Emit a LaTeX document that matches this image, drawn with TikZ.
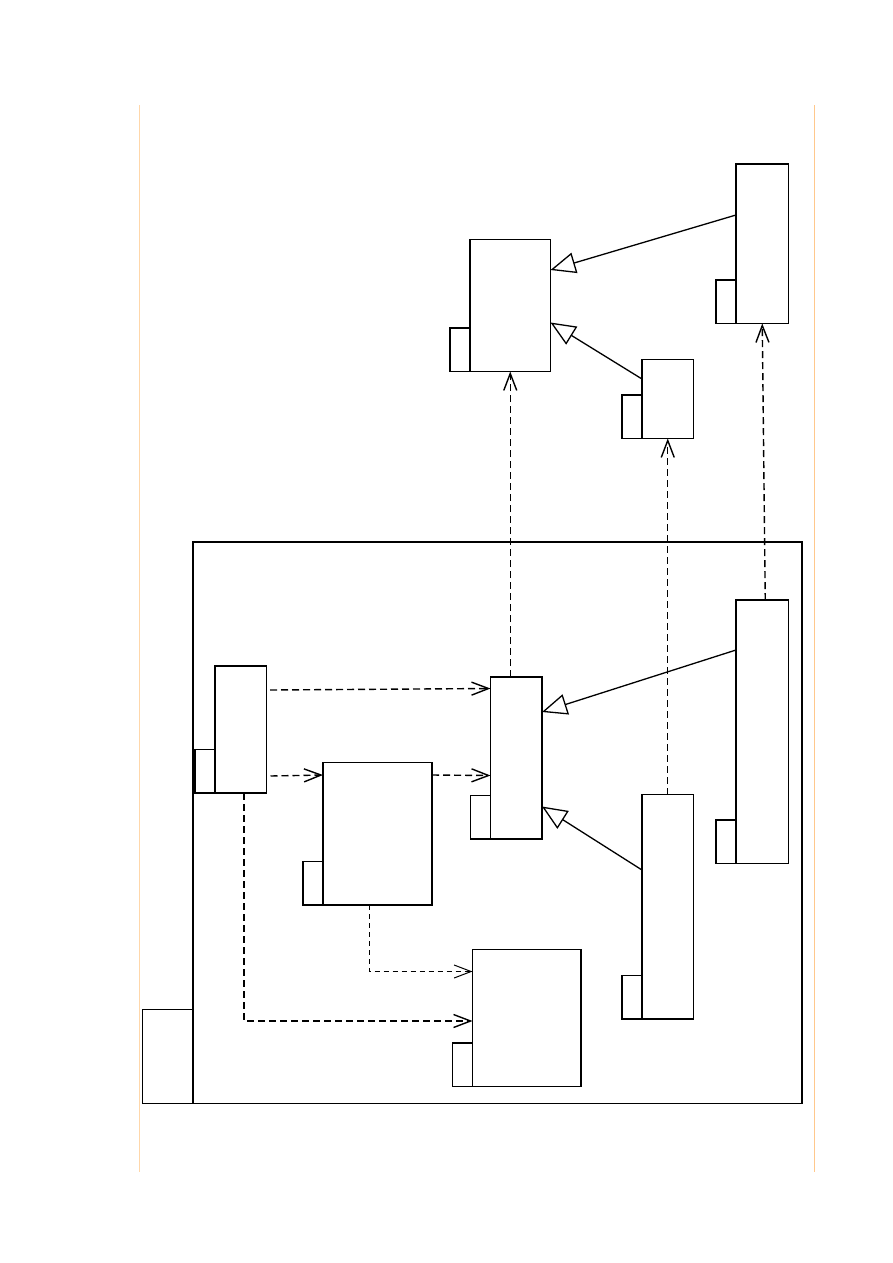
\documentclass[tikz,border=0pt]{standalone}
\usetikzlibrary{arrows.meta}
\definecolor{marginL}{RGB}{255,215,170}
\definecolor{marginR}{RGB}{255,200,140}
\begin{document}
\begin{tikzpicture}[x=1pt,y=-1pt,
  compbox/.style={draw=black,line width=1.3pt,fill=white,inner sep=0pt,outer sep=0pt},
  tabbox/.style={draw=black,line width=1.3pt,fill=white,inner sep=0pt,outer sep=0pt,
     anchor=south east,minimum width=20pt,minimum height=43.5pt},
  dep/.style={line width=1.4pt,dash pattern=on 7pt off 4pt,
     -{Straight Barb[length=17pt,width=13pt]}},
  gen/.style={line width=1.3pt,-{Triangle[open,length=25pt,width=21pt]}},
  margin/.style={line width=1pt}]
\useasboundingbox (0,0) rectangle (893,1263);
% page margins
\draw[margin,marginL] (139.5,105) coordinate (mL1) -- (139.5,1172) coordinate (mL2);
\draw[margin,marginR] (814.5,105) coordinate (mR1) -- (814.5,1172) coordinate (mR2);
% outer frame
\node[compbox,minimum width=609pt,minimum height=561.5pt] (frame) at (497.5,822.75) {};
\draw[line width=2.6pt] (frame.north west) -- (frame.south west);
\node[compbox,anchor=south east,minimum width=50.5pt,minimum height=94pt] (frametab) at (frame.south west) {};
% top components
\node[compbox,minimum width=80.5pt,minimum height=132pt] (A) at (510.25,305.5) {};
\node[tabbox] (Atab) at (A.south west) {};
\node[compbox,minimum width=52.5pt,minimum height=159.5pt] (B) at (762.25,243.75) {};
\node[tabbox] (Btab) at (B.south west) {};
\node[compbox,minimum width=51.5pt,minimum height=79pt] (C) at (667.75,399) {};
\node[tabbox] (Ctab) at (C.south west) {};
% inner components
\node[compbox,minimum width=51.5pt,minimum height=127pt] (E) at (240.75,729.5) {};
\node[tabbox] (Etab) at (E.south west) {};
\node[compbox,minimum width=109pt,minimum height=142.5pt] (H) at (377.5,833.75) {};
\node[tabbox] (Htab) at (H.south west) {};
\node[compbox,minimum width=51.5pt,minimum height=162pt] (D) at (516.25,758) {};
\node[tabbox] (Dtab) at (D.south west) {};
\node[compbox,minimum width=51.5pt,minimum height=224.5pt] (F) at (667.75,906.75) {};
\node[tabbox] (Ftab) at (F.south west) {};
\node[compbox,minimum width=52.5pt,minimum height=263.5pt] (G) at (762.25,731.75) {};
\node[tabbox] (Gtab) at (G.south west) {};
\node[compbox,minimum width=108.5pt,minimum height=137pt] (I) at (526.75,1018) {};
\node[tabbox] (Itab) at (I.south west) {};
% generalizations
\draw[gen] ([yshift=-51pt]B.north west) -- ([yshift=-30.5pt]A.north east);
\draw[gen] ([yshift=-19.5pt]C.north west) -- ([yshift=-83pt]A.north east);
\draw[gen] ([yshift=-50pt]G.north west) -- ([yshift=-35pt]D.north east);
\draw[gen] ([yshift=-75.5pt]F.north west) -- ([yshift=-129.5pt]D.north east);
% dependencies
\draw[dep] ([xshift=-6pt]D.north) -- (A.south);
\draw[dep] (F.north) -- (C.south);
\draw[dep] ([xshift=3pt]G.north) -- (B.south);
\draw[dep] ([xshift=3.5pt,yshift=-24pt]E.north east) -- ([yshift=-11.5pt]D.north west);
\draw[dep] ([xshift=4pt,yshift=-110pt]E.north east) -- ([yshift=-12.5pt]H.north west);
\draw[dep] ([yshift=-12.5pt]H.north east) -- ([yshift=-98.5pt]D.north west);
\draw[dep,line width=1pt,dash pattern=on 5pt off 4pt] ([xshift=-8.5pt]H.south) |- ([yshift=-22pt]I.north west);
\draw[dep] ([xshift=3.25pt]E.south) |- ([yshift=-71.5pt]I.north west);
\end{tikzpicture}
\end{document}
